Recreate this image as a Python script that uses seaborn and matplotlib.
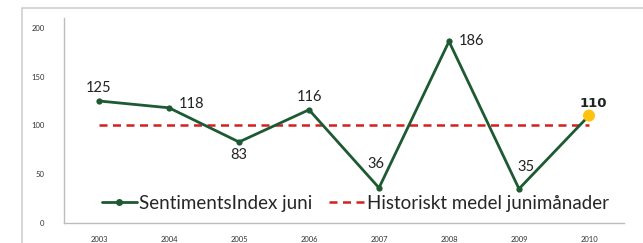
import matplotlib
matplotlib.use("Agg")
import matplotlib.pyplot as plt
import seaborn as sns
import pandas as pd
from matplotlib.patches import Rectangle
from matplotlib.lines import Line2D

years = ["2003", "2004", "2005", "2006", "2007", "2008", "2009", "2010"]
sentiment = [125, 118, 83, 116, 36, 186, 35, 110]
hist_mean = [100, 100, 100, 100, 100, 100, 100, 100]
yticks = [0, 50, 100, 150, 200]

sns.set_theme(style="white")
plt.rcParams['font.family'] = ['Lato', 'DejaVu Sans']

df = pd.DataFrame({"x": range(len(years)), "year": years, "s": sentiment, "m": hist_mean})

fig = plt.figure(figsize=(6.43, 2.43), dpi=100)
fig.patches.append(Rectangle((22/643, -0.1), 1.2, 1 - 8/243 + 0.1,
                             transform=fig.transFigure, fill=False,
                             edgecolor="#cfcfcf", linewidth=1.2, zorder=0))
ax = fig.add_axes([64/643, 20/243, 560/643, 205/243])

green = "#1d5a32"
red = "#d42020"
sns.lineplot(data=df, x="x", y="m", ax=ax, color=red, linewidth=1.8,
             linestyle=(0, (3.2, 2.2)), zorder=2)
sns.lineplot(data=df, x="x", y="s", ax=ax, color=green, linewidth=2,
             marker="o", markersize=4.5, markeredgewidth=0, zorder=3)
ax.scatter([df["x"].iloc[-1]], [sentiment[-1]], s=75, color="#ffc20e", zorder=4, edgecolor="none")

offsets = [(0, 4, "center", "bottom"), (7, 3, "left", "center"), (0, -4, "center", "top"),
           (0, 4, "center", "bottom"), (-2, 12, "center", "bottom"), (7, 0, "left", "center"),
           (5, 11, "center", "bottom"), (3, 4, "center", "bottom")]
for i, (v, (dx, dy, ha, va)) in enumerate(zip(sentiment, offsets)):
    last = i == len(sentiment) - 1
    ax.annotate(str(v), (i, v), xytext=(dx, dy), textcoords="offset points",
                ha=ha, va=va, fontsize=10.5 if not last else 9.5, color="#222222",
                fontweight="bold" if last else "normal",
                family=["DejaVu Sans"] if last else ["Lato"])

ax.set_xlim(-0.5, len(years) - 0.5)
ax.set_ylim(0, 210)
ax.set_xticks(range(len(years)))
ax.set_xticklabels(years)
ax.set_yticks(yticks)
ax.tick_params(axis="both", length=0, labelsize=5.5, colors="#333333")
ax.tick_params(axis="y", pad=14)
ax.tick_params(axis="x", pad=9)
ax.set_xlabel("")
ax.set_ylabel("")
for s in ["top", "right"]:
    ax.spines[s].set_visible(False)
for s in ["left", "bottom"]:
    ax.spines[s].set_color("#bdbdbd")
    ax.spines[s].set_linewidth(1)

handles = [Line2D([0], [0], color=green, lw=2, marker="o", markersize=4),
           Line2D([0], [0], color=red, lw=1.8, linestyle=(0, (3.2, 2.2)))]
ax.legend(handles, ["SentimentsIndex juni", "Historiskt medel junimånader"],
          loc="lower center", bbox_to_anchor=(0.52, 0.0), ncol=2, frameon=False,
          fontsize=13.5, handlelength=1.9, handletextpad=0.1, columnspacing=0.9,
          borderaxespad=0.2)

fig.savefig("out.png", dpi=100)
